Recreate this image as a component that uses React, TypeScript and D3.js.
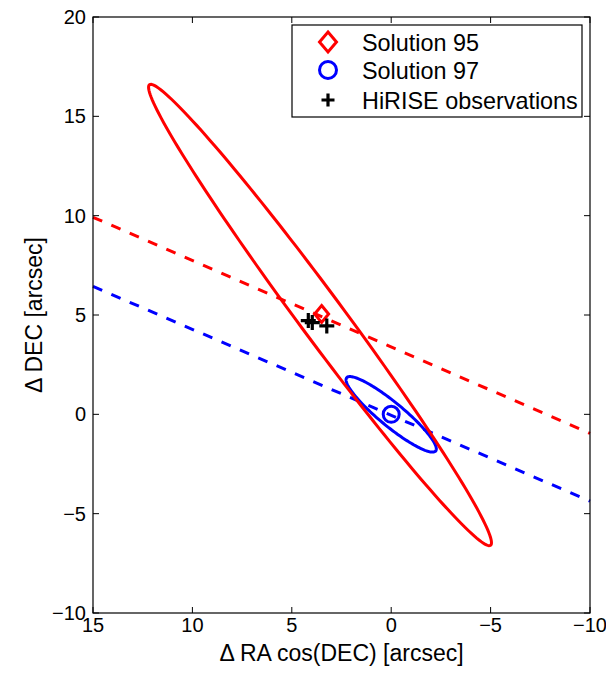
import React, { useEffect, useRef } from 'react';
import * as d3 from 'd3';

// ellipse parameters, data units (arcsec), angle measured from +RA axis
const ellipseNames = ['Solution 95', 'Solution 97'];
const ellipseColors = ['#ff0000', '#0000ff'];
const ellipseCenterX = [3.58, 0.0];
const ellipseCenterY = [5.0, 0.0];
const ellipseSemiMajor = [14.42, 2.9];
const ellipseSemiMinor = [1.12, 0.6];
const ellipseAngleDeg = [53.5, 39.5];

// dashed lines, y value at x = 15 and x = -10
const dashX = [15, -10];
const dashStartY = [9.92, 6.44];
const dashEndY = [-0.96, -4.37];

// solution markers
const solutionX = [3.5, 0.0];
const solutionY = [5.05, 0.0];

// HiRISE observations
const hiriseX = [4.17, 3.97, 3.24];
const hiriseY = [4.72, 4.62, 4.45];

const xTicks = [15, 10, 5, 0, -5, -10];
const yTicks = [-10, -5, 0, 5, 10, 15, 20];

const fmt = (v: number) => (v < 0 ? '\u2212' + Math.abs(v) : String(v));

function App() {
  const ref = useRef<SVGSVGElement>(null);

  useEffect(() => {
    const W = 606;
    const H = 675;
    const margin = { top: 17, right: 16, bottom: 62, left: 93 };
    const width = W - margin.left - margin.right;
    const height = H - margin.top - margin.bottom;
    const font = '"Liberation Sans", Arial, Helvetica, sans-serif';

    const svg = d3.select(ref.current);
    svg.selectAll('*').remove();

    const x = d3.scaleLinear().domain([15, -10]).range([0, width]);
    const y = d3.scaleLinear().domain([-10, 20]).range([height, 0]);

    const g = svg.append('g').attr('transform', `translate(${margin.left},${margin.top})`);

    // dashed lines (blue first, red on top)
    [1, 0].forEach((i) => {
      const pts: [number, number][] = [
        [dashX[0], dashStartY[i]],
        [dashX[1], dashEndY[i]],
      ];
      g.append('path')
        .attr('d', d3.line<[number, number]>().x((d) => x(d[0])).y((d) => y(d[1]))(pts))
        .attr('fill', 'none')
        .attr('stroke', ellipseColors[i])
        .attr('stroke-width', 3)
        .attr('stroke-dasharray', '10 10');
    });

    // ellipses
    const ts = d3.range(0, 360, 2).map((t) => (t * Math.PI) / 180);
    [1, 0].forEach((i) => {
      const th = (ellipseAngleDeg[i] * Math.PI) / 180;
      const a = ellipseSemiMajor[i];
      const b = ellipseSemiMinor[i];
      const pts: [number, number][] = ts.map((t) => [
        ellipseCenterX[i] + a * Math.cos(t) * Math.cos(th) - b * Math.sin(t) * Math.sin(th),
        ellipseCenterY[i] + a * Math.cos(t) * Math.sin(th) + b * Math.sin(t) * Math.cos(th),
      ]);
      g.append('path')
        .attr(
          'd',
          d3
            .line<[number, number]>()
            .x((d) => x(d[0]))
            .y((d) => y(d[1]))
            .curve(d3.curveLinearClosed)(pts)
        )
        .attr('fill', 'none')
        .attr('stroke', ellipseColors[i])
        .attr('stroke-width', 3);
    });

    const diamond = (sel: any, cx: number, cy: number, hw: number, hh: number) =>
      sel
        .append('path')
        .attr('d', `M${cx},${cy - hh}L${cx + hw},${cy}L${cx},${cy + hh}L${cx - hw},${cy}Z`)
        .attr('fill', 'none')
        .attr('stroke', ellipseColors[0])
        .attr('stroke-width', 3);
    const circle = (sel: any, cx: number, cy: number, r: number) =>
      sel
        .append('circle')
        .attr('cx', cx)
        .attr('cy', cy)
        .attr('r', r)
        .attr('fill', 'none')
        .attr('stroke', ellipseColors[1])
        .attr('stroke-width', 3);
    const plus = (sel: any, cx: number, cy: number, s: number) =>
      sel
        .append('path')
        .attr('d', `M${cx - s},${cy}H${cx + s}M${cx},${cy - s}V${cy + s}`)
        .attr('stroke', '#000')
        .attr('stroke-width', 3.2);

    circle(g, x(solutionX[1]), y(solutionY[1]), 8);
    diamond(g, x(solutionX[0]), y(solutionY[0]), 7, 8.5);
    hiriseX.forEach((v, i) => plus(g, x(v), y(hiriseY[i]), 7.5));

    // box and inward ticks
    g.append('rect')
      .attr('width', width)
      .attr('height', height)
      .attr('fill', 'none')
      .attr('stroke', '#000')
      .attr('stroke-width', 1.2);
    const tl = 6;
    xTicks.forEach((t) => {
      g.append('line').attr('x1', x(t)).attr('x2', x(t)).attr('y1', height).attr('y2', height - tl).attr('stroke', '#000');
      g.append('line').attr('x1', x(t)).attr('x2', x(t)).attr('y1', 0).attr('y2', tl).attr('stroke', '#000');
      g.append('text')
        .attr('x', x(t))
        .attr('y', height + 19)
        .attr('text-anchor', 'middle')
        .attr('font-family', font)
        .attr('font-size', 20)
        .text(fmt(t));
    });
    yTicks.forEach((t) => {
      g.append('line').attr('x1', 0).attr('x2', tl).attr('y1', y(t)).attr('y2', y(t)).attr('stroke', '#000');
      g.append('line').attr('x1', width).attr('x2', width - tl).attr('y1', y(t)).attr('y2', y(t)).attr('stroke', '#000');
      g.append('text')
        .attr('x', -7)
        .attr('y', y(t) + 7)
        .attr('text-anchor', 'end')
        .attr('font-family', font)
        .attr('font-size', 20)
        .text(fmt(t));
    });

    svg.append('text')
      .attr('x', margin.left + width / 2)
      .attr('y', 661)
      .attr('text-anchor', 'middle')
      .attr('font-family', font)
      .attr('font-size', 23)
      .text('\u0394 RA cos(DEC) [arcsec]');
    svg.append('text')
      .attr('transform', `translate(42,${margin.top + height / 2}) rotate(-90)`)
      .attr('text-anchor', 'middle')
      .attr('font-family', font)
      .attr('font-size', 23)
      .text('\u0394 DEC [arcsec]');

    // legend
    const lg = svg.append('g');
    lg.append('rect')
      .attr('x', 292)
      .attr('y', 25)
      .attr('width', 290)
      .attr('height', 92)
      .attr('fill', '#fff')
      .attr('stroke', '#000')
      .attr('stroke-width', 1.2);
    const rows = [42, 70, 100];
    const labels = [...ellipseNames, 'HiRISE observations'];
    diamond(lg, 328, rows[0], 8.5, 10);
    circle(lg, 328, rows[1], 8.5);
    plus(lg, 328, rows[2], 6.5);
    labels.forEach((l, i) => {
      lg.append('text')
        .attr('x', 362)
        .attr('y', rows[i] + 8.5)
        .attr('font-family', font)
        .attr('font-size', 23.4)
        .text(l);
    });
  }, []);

  return (
    <svg
      ref={ref}
      width={606}
      height={675}
      style={{ position: 'absolute', left: 0, top: 0, background: '#fff' }}
    />
  );
}

export default App;
